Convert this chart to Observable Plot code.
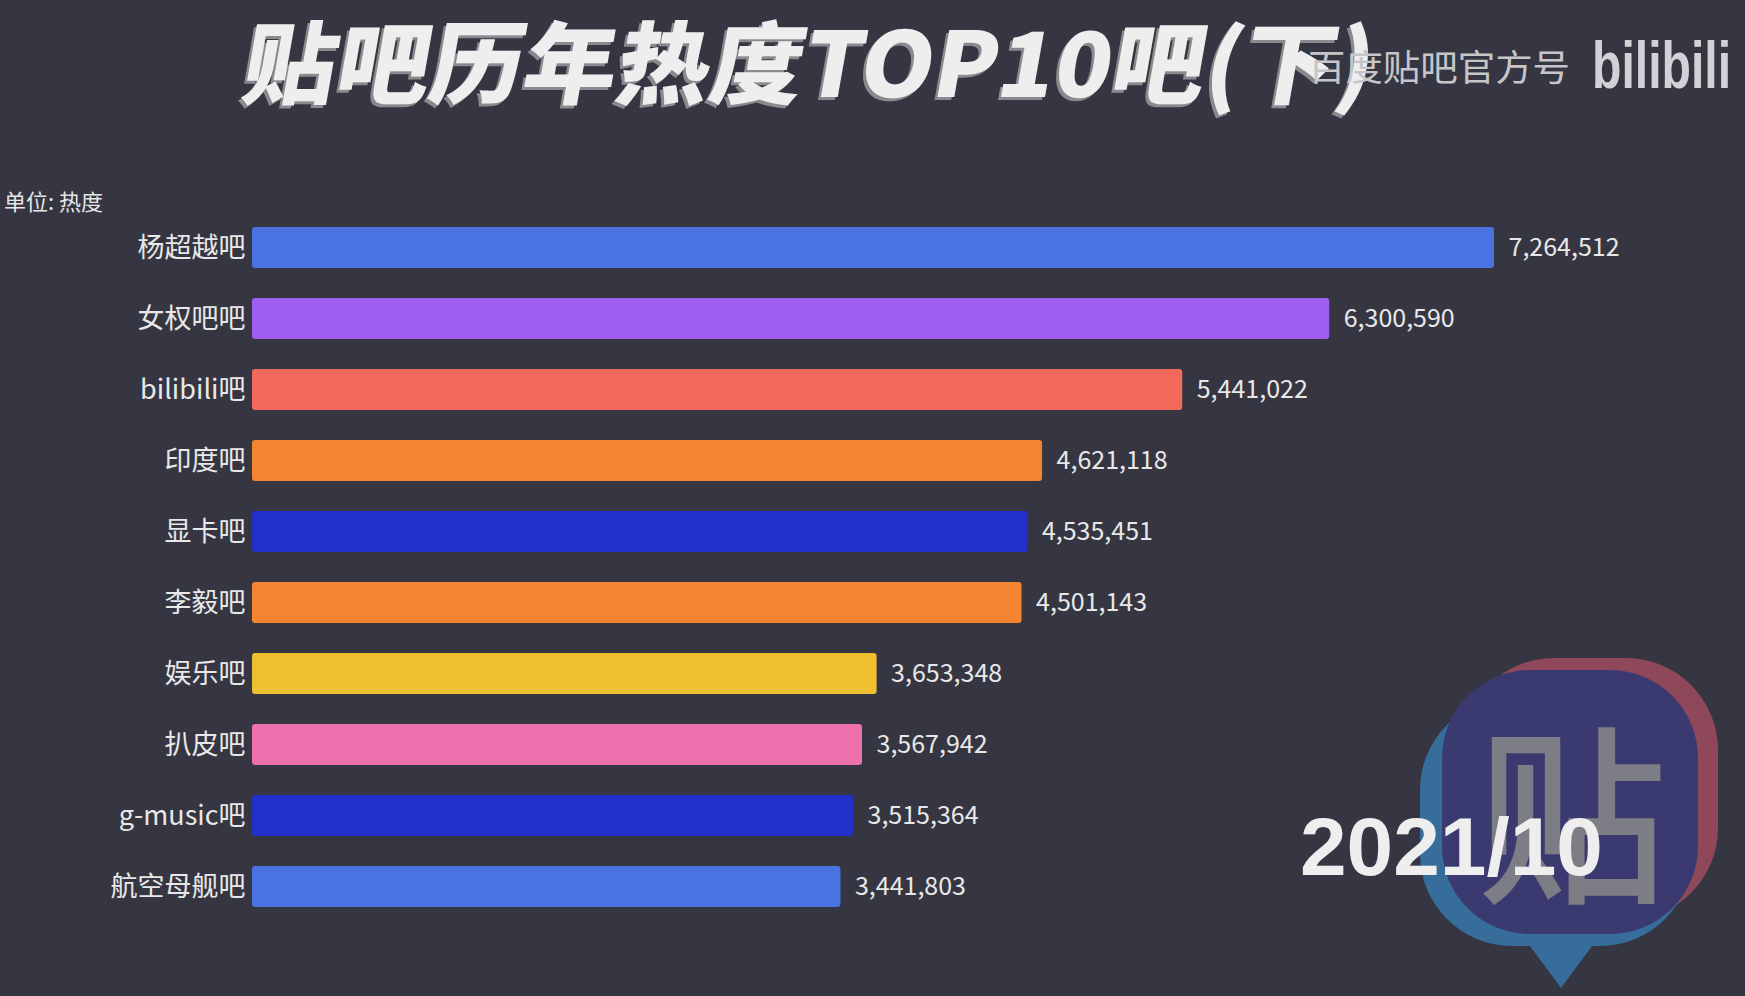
<!DOCTYPE html>
<html>
<head>
<meta charset="utf-8">
<script src="https://cdn.jsdelivr.net/npm/d3@7"></script>
<script src="https://cdn.jsdelivr.net/npm/@observablehq/plot@0.6"></script>
<style>
  html, body { margin: 0; padding: 0; background: #363642; }
  #page { position: relative; width: 1745px; height: 996px; background: #363642; overflow: hidden; font-family: "Noto Sans CJK SC", "Noto Sans", sans-serif; }
  .layer { position: absolute; left: 0; top: 0; }
  #chart { position: absolute; left: 0; top: 150px; z-index: 1; }
  #logo { z-index: 0; }
  #overlay { z-index: 2; pointer-events: none; }
</style>
</head>
<body>
<div id="page">
  <svg id="logo" class="layer" width="1745" height="996">
    <g opacity="0.9">
      <rect x="1462" y="658" width="256" height="262" rx="92" fill="#994a5c"/>
      <rect x="1420" y="698" width="272" height="248" rx="92" fill="#3874a4"/>
      <path d="M1518,930 L1604,930 L1561,988 Z" fill="#3874a4"/>
      <rect x="1442" y="670" width="256" height="264" rx="88" fill="#3c3b76"/>
      <text x="1572" y="888" text-anchor="middle" font-size="190" font-family="Noto Sans CJK SC" font-weight="500" fill="#85858d">贴</text>
    </g>
  </svg>
  <div id="chart"></div>
  <svg id="overlay" class="layer" width="1745" height="996">
    <text transform="translate(236,100) skewX(-10)" textLength="1130" lengthAdjust="spacingAndGlyphs" font-size="90" font-weight="900" font-family="Noto Sans CJK SC" fill="#8a8a8e">贴吧历年热度TOP10吧(下)</text>
    <text transform="translate(239,97) skewX(-10)" textLength="1130" lengthAdjust="spacingAndGlyphs" font-size="90" font-weight="900" font-family="Noto Sans CJK SC" fill="#eeeeee">贴吧历年热度TOP10吧(下)</text>
    <text x="1308" y="81" textLength="262" lengthAdjust="spacingAndGlyphs" font-size="36" font-family="Noto Sans CJK SC" fill="#c6c6ca">百度贴吧官方号</text>
    <text x="1592" y="88" textLength="139" lengthAdjust="spacingAndGlyphs" font-size="66" font-weight="700" font-family="Liberation Sans" fill="#d2d2d6">bilibili</text>
    <text x="4" y="210" font-size="22" font-family="Noto Sans CJK SC" fill="#e6e6e6">单位: 热度</text>
    <text x="1300" y="875" textLength="303" lengthAdjust="spacingAndGlyphs" font-size="82" font-weight="700" font-family="Liberation Sans" fill="#eeeeee">2021/10</text>
  </svg>
</div>
<script>
const names = ["杨超越吧", "女权吧吧", "bilibili吧", "印度吧", "显卡吧", "李毅吧", "娱乐吧", "扒皮吧", "g-music吧", "航空母舰吧"];
const values = [7264512, 6300590, 5441022, 4621118, 4535451, 4501143, 3653348, 3567942, 3515364, 3441803];
const colors = ["#4a73e1", "#a05ef0", "#f2695b", "#f48530", "#1f31c9", "#f48530", "#eebf2f", "#ee70ad", "#1f31c9", "#4a73e1"];

const data = names.map((name, i) => ({name, value: values[i]}));
const fmt = d3.format(",");

const chart = Plot.plot({
  width: 1745,
  height: 846,
  marginLeft: 252,
  marginRight: 251,
  marginTop: 61,
  marginBottom: 74,
  style: {background: "transparent", color: "#e8e8e8", fontFamily: "'Noto Sans CJK SC', 'Noto Sans', sans-serif", fontSize: "27px"},
  x: {domain: [0, d3.max(values)], axis: null},
  y: {domain: names, padding: 0, label: null},
  color: {domain: names, range: colors},
  marks: [
    Plot.barX(data, {y: "name", x: "value", fill: "name", insetTop: 15, insetBottom: 15, rx: 3}),
    Plot.text(data, {y: "name", x: "value", text: d => fmt(d.value), dx: 14, textAnchor: "start", fill: "#e8e8e8", fontSize: 25}),
    Plot.axisY({tickSize: 0, tickPadding: 7, fontSize: 27, label: null, fill: "#e8e8e8"})
  ]
});
document.getElementById("chart").appendChild(chart);
</script>
</body>
</html>
